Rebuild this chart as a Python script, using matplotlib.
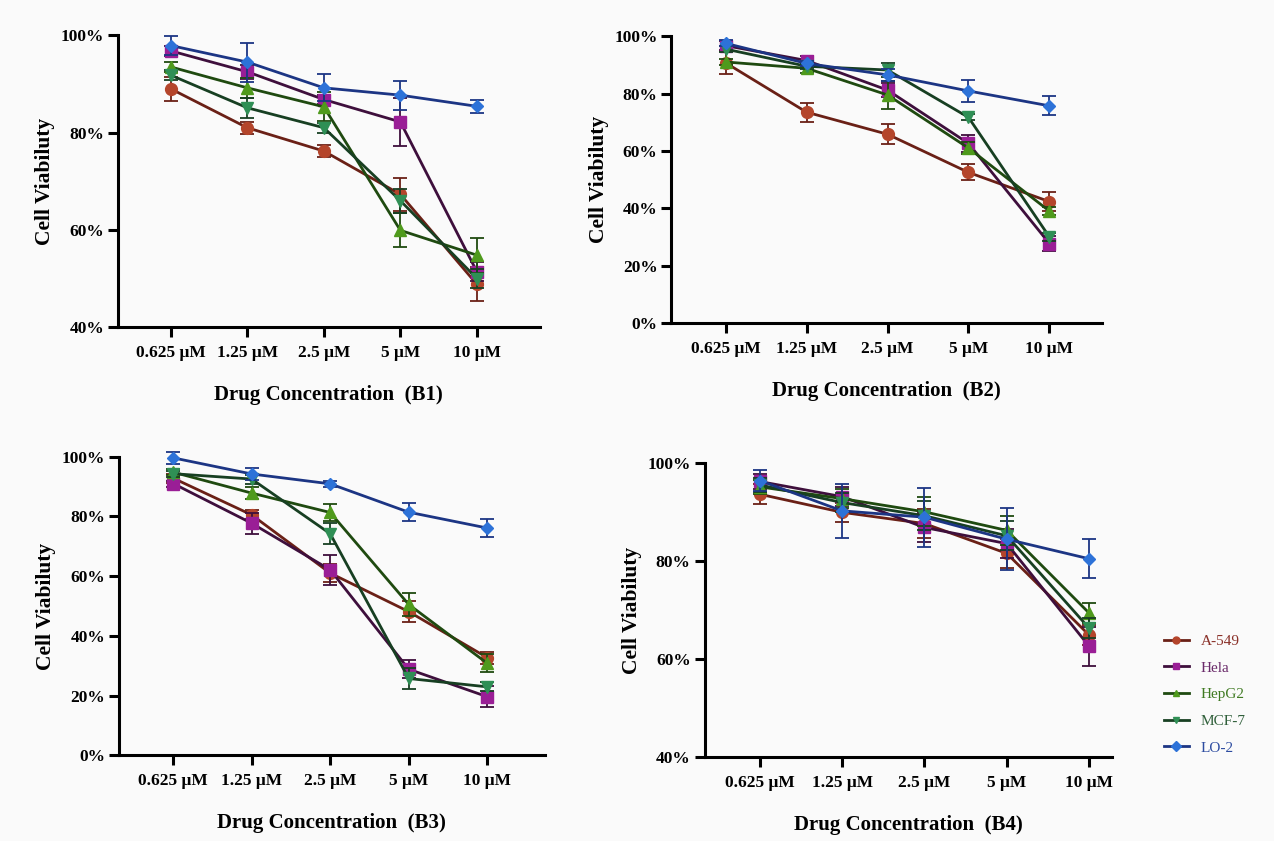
import matplotlib
matplotlib.use("Agg")
import matplotlib.pyplot as plt
from matplotlib.lines import Line2D
from matplotlib.ticker import FuncFormatter

plt.rcParams["font.family"] = ["Liberation Serif", "DejaVu Serif"]

# Концентрации и линии клеток
concentrations = ["0.625 μM", "1.25 μM", "2.5 μM", "5 μM", "10 μM"]
cell_lines = ["A-549", "Hela", "HepG2", "MCF-7", "LO-2"]

# B1
b1_a549 = [89.0, 81.0, 76.2, 67.3, 48.8]
b1_hela = [96.8, 92.5, 86.8, 82.2, 51.4]
b1_hepg2 = [93.5, 89.2, 85.3, 59.9, 54.8]
b1_mcf7 = [91.8, 85.1, 81.0, 66.0, 50.0]
b1_lo2 = [97.9, 94.5, 89.2, 87.7, 85.4]
b1_a549_err = [2.5, 1.2, 1.3, 3.4, 3.5]
b1_hela_err = [1.0, 1.5, 1.0, 5.0, 2.0]
b1_hepg2_err = [1.0, 2.0, 3.0, 3.5, 3.6]
b1_mcf7_err = [1.0, 2.0, 1.0, 2.5, 2.0]
b1_lo2_err = [2.0, 4.0, 2.8, 3.0, 1.3]

# B2
b2_a549 = [90.7, 73.5, 65.8, 52.5, 42.3]
b2_hela = [96.7, 91.5, 81.2, 62.6, 27.7]
b2_hepg2 = [91.0, 88.8, 79.5, 61.0, 39.0]
b2_mcf7 = [95.5, 89.5, 88.2, 71.7, 30.0]
b2_lo2 = [97.5, 90.5, 86.5, 80.9, 75.7]
b2_a549_err = [4.0, 3.3, 3.5, 2.8, 3.2]
b2_hela_err = [1.5, 1.5, 2.5, 3.0, 2.5]
b2_hepg2_err = [1.0, 1.5, 5.0, 2.0, 1.5]
b2_mcf7_err = [1.0, 1.0, 2.5, 1.0, 1.5]
b2_lo2_err = [1.0, 1.0, 2.0, 3.8, 3.3]

# B3
b3_a549 = [92.8, 80.5, 61.0, 48.1, 32.7]
b3_hela = [91.0, 77.7, 62.1, 28.8, 19.6]
b3_hepg2 = [94.8, 87.8, 81.3, 50.5, 30.8]
b3_mcf7 = [94.3, 92.5, 74.2, 25.7, 22.9]
b3_lo2 = [99.6, 94.2, 90.9, 81.4, 76.1]
b3_a549_err = [1.5, 1.5, 3.0, 3.5, 2.0]
b3_hela_err = [1.0, 3.5, 5.0, 3.0, 3.5]
b3_hepg2_err = [1.0, 2.0, 3.0, 4.0, 3.0]
b3_mcf7_err = [1.0, 1.5, 3.5, 3.5, 1.5]
b3_lo2_err = [2.0, 2.0, 1.0, 3.0, 3.0]

# B4
b4_a549 = [93.7, 90.0, 87.7, 81.6, 64.9]
b4_hela = [96.3, 93.2, 86.9, 83.6, 62.6]
b4_hepg2 = [95.2, 92.8, 90.1, 86.3, 69.4]
b4_mcf7 = [95.6, 92.0, 89.3, 85.2, 66.3]
b4_lo2 = [96.5, 90.3, 89.0, 84.5, 80.5]
b4_a549_err = [2.0, 2.0, 3.0, 3.0, 2.0]
b4_hela_err = [1.5, 2.0, 3.0, 3.0, 4.0]
b4_hepg2_err = [1.5, 2.0, 3.0, 3.0, 2.0]
b4_mcf7_err = [1.5, 2.0, 3.0, 3.0, 2.0]
b4_lo2_err = [2.2, 5.5, 6.0, 6.3, 4.0]

panels = [
    ("B1", [b1_a549, b1_hela, b1_hepg2, b1_mcf7, b1_lo2],
     [b1_a549_err, b1_hela_err, b1_hepg2_err, b1_mcf7_err, b1_lo2_err],
     (40, 100), [40, 60, 80, 100]),
    ("B2", [b2_a549, b2_hela, b2_hepg2, b2_mcf7, b2_lo2],
     [b2_a549_err, b2_hela_err, b2_hepg2_err, b2_mcf7_err, b2_lo2_err],
     (0, 100), [0, 20, 40, 60, 80, 100]),
    ("B3", [b3_a549, b3_hela, b3_hepg2, b3_mcf7, b3_lo2],
     [b3_a549_err, b3_hela_err, b3_hepg2_err, b3_mcf7_err, b3_lo2_err],
     (0, 100), [0, 20, 40, 60, 80, 100]),
    ("B4", [b4_a549, b4_hela, b4_hepg2, b4_mcf7, b4_lo2],
     [b4_a549_err, b4_hela_err, b4_hepg2_err, b4_mcf7_err, b4_lo2_err],
     (40, 100), [40, 60, 80, 100]),
]

# стиль серий
line_colors = ["#6a2016", "#3e0f3c", "#1f4a10", "#173f22", "#1c3584"]
marker_colors = ["#b4452b", "#9a1e96", "#4f9a1c", "#2f8f55", "#2d72d8"]
markers = ["o", "s", "^", "v", "D"]
msizes = [8.5, 8.5, 8.5, 8.5, 6]
text_colors = ["#8a3028", "#6a2a6a", "#3f7a22", "#2f5f3a", "#2c4ba0"]

# положение осей (в долях фигуры) и пределы по x
positions = [
    [0.0926, 0.611, 0.331, 0.347],
    [0.527, 0.616, 0.338, 0.341],
    [0.0934, 0.102, 0.334, 0.355],
    [0.553, 0.100, 0.320, 0.349],
]
xlims = [(-0.69, 4.82), (-0.67, 4.65), (-0.69, 4.73), (-0.67, 4.28)]

fig = plt.figure(figsize=(12.74, 8.41), dpi=100)
fig.patch.set_facecolor("#fafafa")

x = list(range(len(concentrations)))
for i, (name, series, errs, ylim, yticks) in enumerate(panels):
    ax = fig.add_axes(positions[i])
    ax.set_facecolor("#fafafa")
    for j in range(len(cell_lines)):
        ax.errorbar(
            x, series[j], yerr=errs[j],
            color=line_colors[j], lw=2.0,
            marker=markers[j], markersize=msizes[j],
            markerfacecolor=marker_colors[j], markeredgecolor=marker_colors[j],
            ecolor=line_colors[j], elinewidth=1.3, capsize=5, capthick=1.3,
            zorder=3 + j, clip_on=False,
        )
    ax.set_xlim(*xlims[i])
    ax.set_ylim(*ylim)
    ax.set_yticks(yticks)
    ax.yaxis.set_major_formatter(FuncFormatter(lambda v, p: f"{v:.0f}%"))
    ax.set_xticks(x)
    ax.set_xticklabels(concentrations)
    for s in ["top", "right"]:
        ax.spines[s].set_visible(False)
    for s in ["left", "bottom"]:
        ax.spines[s].set_linewidth(2.2)
    ax.tick_params(width=2.2, length=7, labelsize=12.5, pad=3)
    ax.tick_params(axis="x", pad=6)
    for lab in ax.get_xticklabels() + ax.get_yticklabels():
        lab.set_fontweight("bold")
    ax.set_ylabel("Cell Viabiluty", fontsize=15.5, fontweight="bold", labelpad=4)
    ax.set_xlabel(f"Drug Concentration  ({name})", fontsize=15,
                  fontweight="bold", labelpad=17)

handles = [
    Line2D([0], [0], color=line_colors[j], lw=2.0, marker=markers[j],
           markersize=5, markerfacecolor=marker_colors[j],
           markeredgecolor=marker_colors[j])
    for j in range(len(cell_lines))
]
leg = fig.legend(
    handles, cell_lines, loc="upper left", bbox_to_anchor=(0.903, 0.262),
    frameon=False, fontsize=11, handlelength=1.6, labelspacing=0.85,
)
for t, c in zip(leg.get_texts(), text_colors):
    t.set_color(c)

fig.savefig("out.png", dpi=100, facecolor=fig.get_facecolor())
